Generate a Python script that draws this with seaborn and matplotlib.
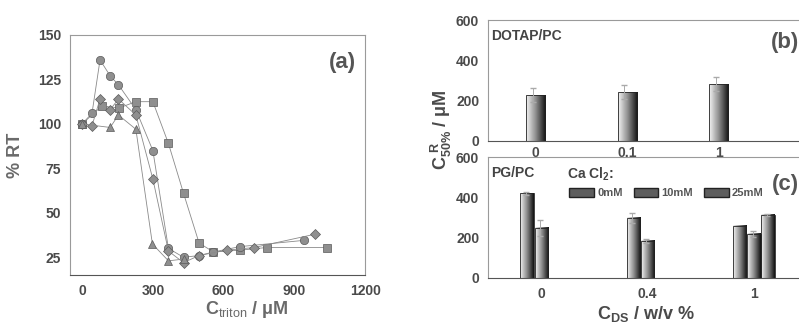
import numpy as np
import pandas as pd
import seaborn as sns
import matplotlib
matplotlib.use('Agg')
import matplotlib.pyplot as plt
from matplotlib.colors import LinearSegmentedColormap
from matplotlib.patches import Patch
from matplotlib.ticker import MultipleLocator

# --- panel (a): %RT vs C_triton ---
sq_x = [0, 83, 157, 228, 300, 366, 430, 496, 557, 669, 783, 1040]
sq_y = [100, 110, 109, 112.5, 112.5, 89, 61, 33, 28, 29, 30.5, 30.5]
ci_x = [0, 42, 76, 119, 154, 228, 300, 366, 430, 496, 557, 669, 939]
ci_y = [100, 106, 136, 127, 122, 108, 85, 30, 25, 26, 28, 31, 34.5]
di_x = [0, 42, 76, 119, 154, 228, 300, 366, 430, 496, 614, 729, 988]
di_y = [100, 99, 114, 108, 114, 105, 69, 28.5, 22, 26, 29, 30.5, 38]
tr_x = [0, 119, 154, 228, 298, 366, 430]
tr_y = [100, 98, 105, 97, 32.5, 23, 24]

# --- panel (b): DOTAP/PC ---
b_cats = ['0', '0.1', '1']
b_vals = [228, 242, 282]
b_errs = [35, 35, 35]

# --- panel (c): PG/PC, CaCl2 ---
c_cats = ['0', '0.4', '1']
c_hues = ['0mM', '10mM', '25mM']
c_0mm = [420, 300, 260]
c_10mm = [250, 185, 220]
c_25mm = [np.nan, np.nan, 315]
c_err_0mm = [8, 25, 0]
c_err_10mm = [40, 10, 15]
c_err_25mm = [np.nan, np.nan, 5]

TXT = '#4a4a4a'
bar_cmap = LinearSegmentedColormap.from_list('bargrad', ['#f4f4f4', '#8c8c8c', '#111111'])


def style_axes(ax):
    for s in ax.spines.values():
        s.set_color('#9a9a9a')
        s.set_linewidth(0.8)
    ax.spines['bottom'].set_color('#555555')
    ax.tick_params(colors='#9a9a9a', labelcolor=TXT, length=3, width=0.7)
    ax.tick_params(which='minor', colors='#b0b0b0', length=2)
    for lab in ax.get_xticklabels() + ax.get_yticklabels():
        lab.set_fontweight('bold')
        lab.set_fontsize(10)


def gradient_bars(ax):
    xl, yl = ax.get_xlim(), ax.get_ylim()
    grad = np.linspace(0, 1, 64).reshape(1, -1)
    for p in ax.patches:
        bb = p.get_bbox()
        if not np.isfinite(bb.y1) or bb.width == 0:
            continue
        ax.imshow(grad, extent=[bb.x0, bb.x1, bb.y0, bb.y1], aspect='auto',
                  cmap=bar_cmap, zorder=2, interpolation='bilinear')
        p.set_facecolor('none')
        p.set_edgecolor('#222222')
        p.set_linewidth(0.6)
        p.set_zorder(3)
    ax.set_xlim(xl)
    ax.set_ylim(yl)


sns.set_theme(style='white')
plt.rcParams['font.family'] = ['Liberation Sans', 'DejaVu Sans']
plt.rcParams['mathtext.fontset'] = 'custom'
plt.rcParams['mathtext.rm'] = 'Liberation Sans'
plt.rcParams['mathtext.bf'] = 'Liberation Sans:bold'

fig = plt.figure(figsize=(7.99, 3.24), dpi=100)
ax_a = fig.add_axes([0.088, 0.151, 0.369, 0.741])
ax_b = fig.add_axes([0.611, 0.565, 0.395, 0.373])
ax_c = fig.add_axes([0.611, 0.142, 0.395, 0.373])

# panel (a)
series = [(sq_x, sq_y, 's'), (ci_x, ci_y, 'o'), (di_x, di_y, 'D'), (tr_x, tr_y, '^')]
for xs, ys, m in series:
    df = pd.DataFrame({'x': xs, 'y': ys})
    sns.lineplot(data=df, x='x', y='y', ax=ax_a, color='#8a8a8a', lw=0.6,
                 marker=m, markersize=6 if m != 'D' else 5,
                 markerfacecolor='#8f8f8f', markeredgecolor='#5a5a5a',
                 markeredgewidth=0.5, sort=False)
ax_a.set_xlim(-50, 1200)
ax_a.set_ylim(15, 150)
ax_a.set_xticks([0, 300, 600, 900, 1200])
ax_a.set_yticks([25, 50, 75, 100, 125, 150])
ax_a.xaxis.set_minor_locator(MultipleLocator(150))
ax_a.yaxis.set_minor_locator(MultipleLocator(12.5))
ax_a.set_xlabel(r'C$_{\mathrm{triton}}$ / μM', fontsize=13, fontweight='bold', color='#6a6a6a')
ax_a.xaxis.set_label_coords(0.6, -0.1)
ax_a.set_ylabel('% RT', fontsize=13, fontweight='bold', color='#6a6a6a', labelpad=10)
ax_a.text(0.97, 0.93, '(a)', transform=ax_a.transAxes, ha='right', va='top',
          fontsize=16, fontweight='bold', color='#555555')
style_axes(ax_a)

# panel (b)
df_b = pd.DataFrame({'c': b_cats, 'v': b_vals})
sns.barplot(data=df_b, x='c', y='v', ax=ax_b, width=0.21, color='#777777')
ax_b.set_xlim(-0.52, 2.93)
ax_b.set_ylim(0, 600)
for p, e in zip(ax_b.patches, b_errs):
    bb = p.get_bbox()
    ax_b.errorbar(bb.x0 + bb.width * 0.35, bb.y1, yerr=e, fmt='none',
                  ecolor='#aaaaaa', elinewidth=0.7, capsize=2, zorder=4)
gradient_bars(ax_b)
ax_b.set_yticks([0, 200, 400, 600])
ax_b.yaxis.set_minor_locator(MultipleLocator(100))
ax_b.set_xticks([0, 1, 2], b_cats)
ax_b.set_xticks([0.5, 1.5, 2.5], minor=True)
ax_b.tick_params(axis='x', pad=1)
ax_b.set_xlabel('')
ax_b.set_ylabel('')
ax_b.text(0.01, 0.93, 'DOTAP/PC', transform=ax_b.transAxes, ha='left', va='top',
          fontsize=10, fontweight='bold', color='#444444')
ax_b.text(0.985, 0.9, '(b)', transform=ax_b.transAxes, ha='right', va='top',
          fontsize=16, fontweight='bold', color='#555555')
style_axes(ax_b)

# panel (c)
df_c = pd.DataFrame({
    'c': c_cats * 3,
    'h': [h for h in c_hues for _ in c_cats],
    'v': c_0mm + c_10mm + c_25mm,
    'e': c_err_0mm + c_err_10mm + c_err_25mm,
})
sns.barplot(data=df_c, x='c', y='v', hue='h', ax=ax_c, width=0.4, gap=0.05,
            palette=['#777777'] * 3, legend=False)
ax_c.set_xlim(-0.5, 2.47)
ax_c.set_ylim(0, 600)
bars = [p for p in ax_c.patches if np.isfinite(p.get_height()) and p.get_height() > 0]
errs = [e for e in df_c['e'] if np.isfinite(e)]
for p, e in zip(bars, errs):
    bb = p.get_bbox()
    if e > 0:
        ax_c.errorbar(bb.x0 + bb.width * 0.4, bb.y1, yerr=e, fmt='none',
                      ecolor='#aaaaaa', elinewidth=0.7, capsize=2, zorder=4)
gradient_bars(ax_c)
ax_c.set_yticks([0, 200, 400, 600])
ax_c.yaxis.set_minor_locator(MultipleLocator(100))
ax_c.set_xticks([0, 1, 2], c_cats)
ax_c.set_xticks([0.5, 1.5], minor=True)
ax_c.set_ylabel('')
ax_c.set_xlabel(r'C$_{\mathbf{DS}}$ / w/v %', fontsize=13, fontweight='bold',
                color='#4a4a4a', labelpad=2)
ax_c.text(0.01, 0.93, 'PG/PC', transform=ax_c.transAxes, ha='left', va='top',
          fontsize=10, fontweight='bold', color='#444444')
ax_c.text(0.25, 0.93, r'Ca Cl$_\mathbf{2}$:', transform=ax_c.transAxes, ha='left', va='top',
          fontsize=10, fontweight='bold', color='#444444')
ax_c.text(0.985, 0.86, '(c)', transform=ax_c.transAxes, ha='right', va='top',
          fontsize=16, fontweight='bold', color='#555555')
handles = [Patch(facecolor='#5e5e5e', edgecolor='#222222') for _ in c_hues]
leg = ax_c.legend(handles, c_hues, ncol=3, frameon=False, loc='upper left',
                  bbox_to_anchor=(0.25, 0.76), fontsize=8, handlelength=2.2,
                  handleheight=0.8, columnspacing=1.0, handletextpad=0.3,
                  borderpad=0.1, borderaxespad=0.1)
for t in leg.get_texts():
    t.set_fontweight('bold')
    t.set_color('#555555')
style_axes(ax_c)

fig.text(0.553, 0.6, r'C$_{\mathbf{50\%}}^{\ \mathbf{R}}$ / μM', rotation=90,
         ha='center', va='center', fontsize=13, fontweight='bold', color='#4a4a4a')

fig.savefig('out.png', dpi=100)
